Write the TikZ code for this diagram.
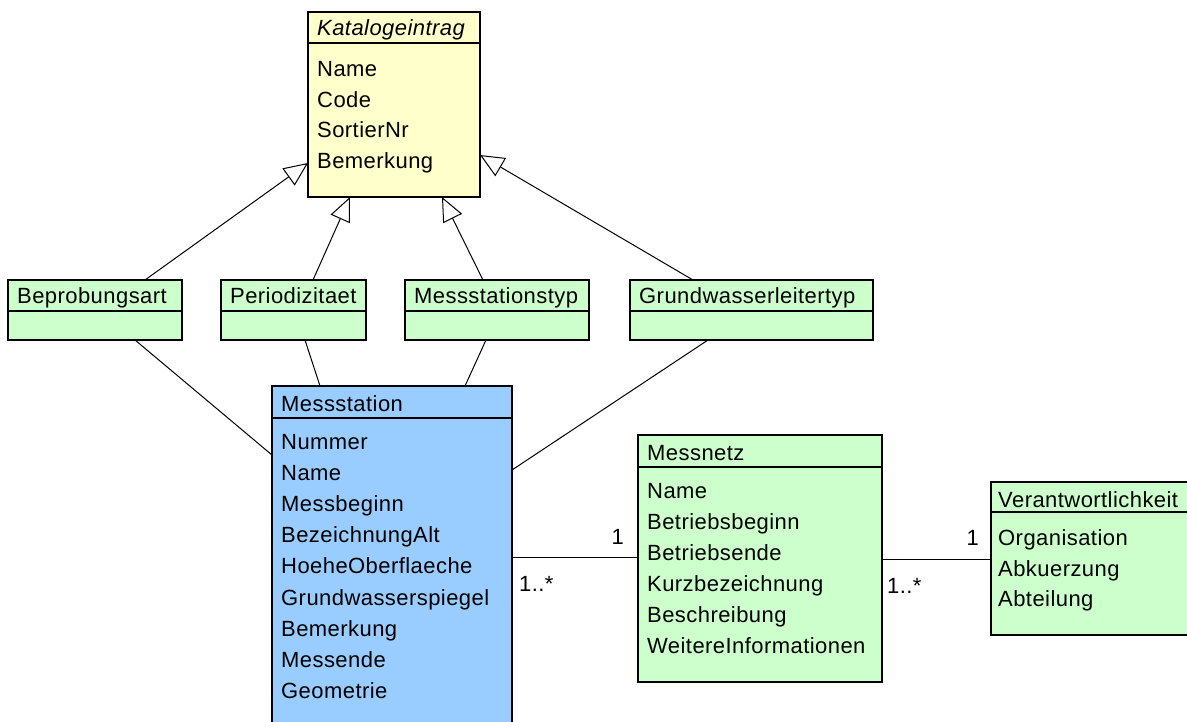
\documentclass[tikz,border=0pt]{standalone}
\usepackage{fontspec}
\setmainfont{Liberation Sans}[LetterSpace=2.0]
\usetikzlibrary{calc,arrows.meta}
\definecolor{kyel}{HTML}{FFFFCC}
\definecolor{kgreen}{HTML}{CCFFCC}
\definecolor{kblue}{HTML}{99CCFF}
\tikzset{
  cls/.style={draw=black, line width=1.5pt, anchor=north west, inner sep=0pt, outer sep=0pt},
  sepline/.style={line width=1.5pt},
  attr/.style={anchor=west, inner sep=0pt, text height=16pt, text depth=0pt, font=\fontsize{22pt}{26pt}\selectfont},
  mult/.style={inner sep=0pt, text height=16pt, text depth=0pt, font=\fontsize{22pt}{26pt}\selectfont},
  gen/.style={line width=1pt, -{Triangle[open, length=24pt, width=21pt, line width=1pt]}},
  assoc/.style={line width=1pt},
}
\begin{document}
\begin{tikzpicture}[x=1pt, y=-1pt]
\useasboundingbox (0,0) rectangle (1187,722);
\clip (0,0) rectangle (1187,722);
\fill[white] (0,0) rectangle (1187,722);

% class boxes
\node[cls, fill=kyel, minimum width=172pt, minimum height=185pt] (kat) at (308,12) {};
\node[cls, fill=kgreen, minimum width=174pt, minimum height=60pt] (bep) at (8,280) {};
\node[cls, fill=kgreen, minimum width=145pt, minimum height=60pt] (per) at (221,280) {};
\node[cls, fill=kgreen, minimum width=184pt, minimum height=60pt] (mtyp) at (405,280) {};
\node[cls, fill=kgreen, minimum width=243pt, minimum height=60pt] (gwl) at (630,280) {};
\node[cls, fill=kblue, minimum width=240pt, minimum height=349pt] (mst) at (272,386) {};
\node[cls, fill=kgreen, minimum width=244pt, minimum height=247pt] (mnetz) at (638,435) {};
\node[cls, fill=kgreen, minimum width=220pt, minimum height=153pt] (vera) at (991,482) {};

% compartment separators
\draw[sepline] ($(kat.north west)+(0,31)$) -- ($(kat.north east)+(0,31)$);
\draw[sepline] ($(bep.north west)+(0,31)$) -- ($(bep.north east)+(0,31)$);
\draw[sepline] ($(per.north west)+(0,31)$) -- ($(per.north east)+(0,31)$);
\draw[sepline] ($(mtyp.north west)+(0,31)$) -- ($(mtyp.north east)+(0,31)$);
\draw[sepline] ($(gwl.north west)+(0,31)$) -- ($(gwl.north east)+(0,31)$);
\draw[sepline] ($(mst.north west)+(0,32)$) -- ($(mst.north east)+(0,32)$);
\draw[sepline] ($(mnetz.north west)+(0,32)$) -- ($(mnetz.north east)+(0,32)$);
\draw[sepline] ($(vera.north west)+(0,30)$) -- ($(vera.north east)+(0,30)$);

% Katalogeintrag
\node[attr] (kat-t) at (317,28) {\itshape Katalogeintrag};
\node[attr] (kat-a1) at (317,68.5) {Name};
\node[attr] (kat-a2) at (317,99.5) {Code};
\node[attr] (kat-a3) at (317,130) {SortierNr};
\node[attr] (kat-a4) at (317,161) {Bemerkung};

% small catalogue classes
\node[attr] (bep-t) at (17,296) {Beprobungsart};
\node[attr] (per-t) at (230,296) {Periodizitaet};
\node[attr] (mtyp-t) at (414,296) {Messstationstyp};
\node[attr] (gwl-t) at (639,296) {Grundwasserleitertyp};

% Messstation
\node[attr] (mst-t) at (281,403) {Messstation};
\node[attr] (mst-a1) at (281,441.5) {Nummer};
\node[attr] (mst-a2) at (281,472.6) {Name};
\node[attr] (mst-a3) at (281,503.7) {Messbeginn};
\node[attr] (mst-a4) at (281,534.8) {BezeichnungAlt};
\node[attr] (mst-a5) at (281,565.9) {HoeheOberflaeche};
\node[attr] (mst-a6) at (281,597) {Grundwasserspiegel};
\node[attr] (mst-a7) at (281,628.1) {Bemerkung};
\node[attr] (mst-a8) at (281,659.2) {Messende};
\node[attr] (mst-a9) at (281,690.3) {Geometrie};

% Messnetz
\node[attr] (mnetz-t) at (647,452) {Messnetz};
\node[attr] (mnetz-a1) at (647,490) {Name};
\node[attr] (mnetz-a2) at (647,521) {Betriebsbeginn};
\node[attr] (mnetz-a3) at (647,552) {Betriebsende};
\node[attr] (mnetz-a4) at (647,583) {Kurzbezeichnung};
\node[attr] (mnetz-a5) at (647,614) {Beschreibung};
\node[attr] (mnetz-a6) at (647,645) {WeitereInformationen};

% Verantwortlichkeit
\node[attr] (vera-t) at (998,499) {Verantwortlichkeit};
\node[attr] (vera-a1) at (998,537) {Organisation};
\node[attr] (vera-a2) at (998,568) {Abkuerzung};
\node[attr] (vera-a3) at (998,598) {Abteilung};

% generalisations
\draw[gen] ($(bep.north west)+(137,0)$) -- ($(kat.north west)+(0,151)$);
\draw[gen] ($(per.north west)+(92,0)$) -- ($(kat.south west)+(42,0)$);
\draw[gen] ($(mtyp.north west)+(78,0)$) -- ($(kat.south west)+(134,0)$);
\draw[gen] ($(gwl.north west)+(63,0)$) -- ($(kat.north east)+(0,143)$);

% associations
\draw[assoc] ($(bep.south west)+(127,0)$) -- ($(mst.north west)+(0,69)$);
\draw[assoc] ($(per.south west)+(84,0)$) -- ($(mst.north west)+(48,0)$);
\draw[assoc] ($(mtyp.south west)+(81,0)$) -- ($(mst.north west)+(193,0)$);
\draw[assoc] ($(gwl.south west)+(78,0)$) -- ($(mst.north east)+(0,84)$);
\draw[assoc] ($(mst.north east)+(0,171)$) -- ($(mnetz.north west)+(0,122)$);
\draw[assoc] ($(mnetz.north east)+(0,124)$) -- ($(vera.north west)+(0,77)$);

% multiplicities
\node[mult, anchor=west] (m1) at (519,583) {1..*};
\node[mult, anchor=east] (m2) at (624,536) {1};
\node[mult, anchor=west] (m3) at (887,585) {1..*};
\node[mult, anchor=east] (m4) at (979,537) {1};
\end{tikzpicture}
\end{document}
